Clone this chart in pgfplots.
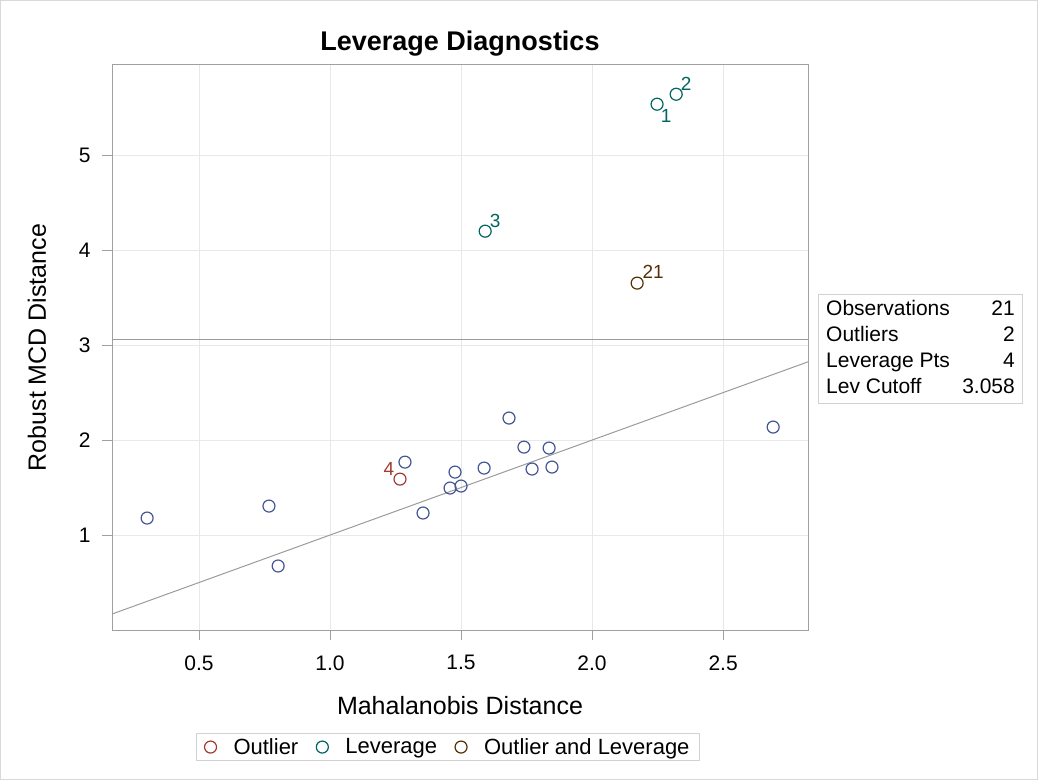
\documentclass[border=0pt]{standalone}
\usepackage{fontspec}
\setmainfont{Liberation Sans}
\usepackage{pgfplots}
\pgfplotsset{compat=1.18}
\definecolor{cblue}{HTML}{445694}
\definecolor{cout}{HTML}{A23A2E}
\definecolor{clev}{HTML}{01665E}
\definecolor{cboth}{HTML}{543005}
\definecolor{frame}{RGB}{160,160,160}
\definecolor{gridc}{RGB}{232,232,232}
\definecolor{refc}{RGB}{155,155,155}
\begin{document}
\begin{tikzpicture}
\useasboundingbox (0pt,0pt) rectangle (1038pt,780pt);
\draw[gray!30, line width=1pt] (0.5pt,0.5pt) rectangle (1037.5pt,779.5pt);
\begin{axis}[
  at={(112pt,150pt)}, anchor=south west,
  scale only axis, width=696pt, height=565pt,
  xmin=0.168, xmax=2.824, ymin=0, ymax=5.95,
  xtick={0.5,1.0,1.5,2.0,2.5},
  ytick={1,2,3,4,5},
  /pgf/number format/assume math mode=true,
  ticklabel style={font=\fontsize{21}{24}\selectfont},
  xticklabel style={yshift=-12pt, /pgf/number format/fixed, /pgf/number format/fixed zerofill, /pgf/number format/precision=1},
  yticklabel style={xshift=-8pt},
  tick align=outside, major tick length=10pt,
  tick style={frame, line width=0.8pt},
  axis line style={frame, line width=1pt},
  xtick pos=bottom, ytick pos=left,
  grid=major, grid style={gridc, line width=1pt},
  title={Leverage Diagnostics},
  title style={font=\bfseries\fontsize{27}{30}\selectfont, at={(axis description cs:0.5,1.0144)}, anchor=base},
  xlabel={Mahalanobis Distance},
  ylabel={Robust MCD Distance},
  xlabel style={font=\fontsize{25}{28}\selectfont, at={(axis description cs:0.5,-0.1345)}, anchor=center},
  ylabel style={font=\fontsize{25}{28}\selectfont, at={(axis description cs:-0.1078,0.5)}, anchor=center},
  clip=true,
  legend style={at={(axis description cs:0.4828,-0.182)}, anchor=north,
    font=\fontsize{22}{25}\selectfont, draw=gray!35, line width=1pt,
    inner xsep=8pt, inner ysep=3pt,
    /tikz/every odd column/.append style={column sep=15pt},
    /tikz/every even column/.append style={column sep=16pt}},
  legend columns=3,
  every axis plot/.append style={line width=1.2pt},
]
\addplot[refc, line width=1pt, forget plot] coordinates {(0.168,3.058) (2.824,3.058)};
\addplot[refc, line width=1pt, forget plot] coordinates {(0.168,0.168) (2.824,2.824)};
\addplot[only marks, mark=o, mark size=6pt, cblue, forget plot] coordinates {
(0.302,1.179) (0.767,1.305) (0.802,0.674) (1.286,1.768) (1.355,1.232)
(1.477,1.663) (1.458,1.495) (1.500,1.516) (1.588,1.705) (1.683,2.232)
(1.740,1.926) (1.836,1.916) (1.771,1.695) (1.847,1.716) (2.691,2.137)};
\addplot[only marks, mark=o, mark size=6pt, cout] coordinates {(1.267,1.589)};
\addlegendentry{Outlier}
\addplot[only marks, mark=o, mark size=6pt, clev] coordinates {(2.248,5.537) (2.321,5.642) (1.592,4.200)};
\addlegendentry{Leverage}
\addplot[only marks, mark=o, mark size=6pt, cboth] coordinates {(2.172,3.653)};
\addlegendentry{Outlier and Leverage}
\node[cout, font=\fontsize{19}{21}\selectfont, xshift=-11pt, yshift=10pt] at (axis cs:1.267,1.589) {4};
\node[clev, font=\fontsize{19}{21}\selectfont, xshift=9pt, yshift=-12pt] at (axis cs:2.248,5.537) {1};
\node[clev, font=\fontsize{19}{21}\selectfont, xshift=10pt, yshift=10pt] at (axis cs:2.321,5.642) {2};
\node[clev, font=\fontsize{19}{21}\selectfont, xshift=10pt, yshift=10pt] at (axis cs:1.592,4.200) {3};
\node[cboth, font=\fontsize{19}{21}\selectfont, xshift=16pt, yshift=11pt] at (axis cs:2.172,3.653) {21};
\end{axis}
\draw[gray!35, line width=1pt] (818pt,377pt) rectangle (1022pt,485pt);
\begin{scope}[every node/.style={font=\fontsize{21}{24}\selectfont, inner sep=0pt}]
\node[anchor=base west] at (826pt,464pt) {Observations};
\node[anchor=base west] at (826pt,438pt) {Outliers};
\node[anchor=base west] at (826pt,412pt) {Leverage Pts};
\node[anchor=base west] at (826pt,386pt) {Lev Cutoff};
\node[anchor=base east] at (1015pt,464pt) {21};
\node[anchor=base east] at (1015pt,438pt) {2};
\node[anchor=base east] at (1015pt,412pt) {4};
\node[anchor=base east] at (1015pt,386pt) {3.058};
\end{scope}
\end{tikzpicture}
\end{document}
